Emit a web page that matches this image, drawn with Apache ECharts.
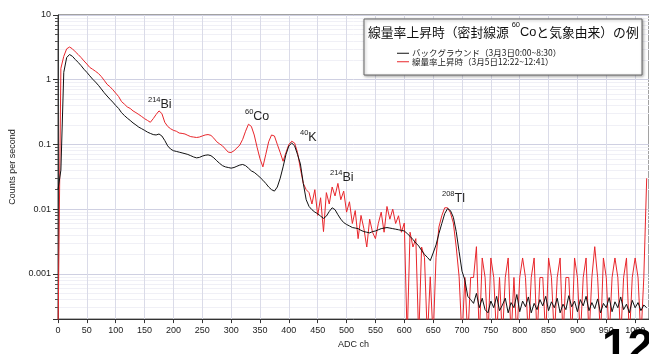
<!DOCTYPE html>
<html>
<head>
<meta charset="utf-8">
<script src="https://cdn.jsdelivr.net/npm/echarts@6/dist/echarts.min.js"></script>
<style>
  html, body { margin: 0; padding: 0; background: #fff; }
  #chart { width: 649px; height: 354px; }
</style>
</head>
<body>
<div id="chart"></div>
<script>
// ADC channel spacing of the samples below
const STEP = 5

// バックグラウンド (cps), ch 0..1020
const bgCps = [
  0.02, 0.04, 1.3, 2.2, 2.45, 2.3, 2.05, 1.85, 1.65, 1.45,
  1.3, 1.15, 1.02, 0.92, 0.82, 0.72, 0.63, 0.56, 0.5, 0.45,
  0.4, 0.36, 0.31, 0.28, 0.255, 0.235, 0.215, 0.2, 0.185, 0.175,
  0.165, 0.155, 0.148, 0.142, 0.14, 0.145, 0.135, 0.115, 0.095, 0.085,
  0.08, 0.078, 0.076, 0.074, 0.072, 0.07, 0.067, 0.064, 0.062, 0.063,
  0.066, 0.068, 0.069, 0.067, 0.062, 0.056, 0.051, 0.047, 0.045, 0.044,
  0.043, 0.044, 0.046, 0.048, 0.049, 0.047, 0.043, 0.039, 0.037, 0.034,
  0.031, 0.028, 0.025, 0.022, 0.02, 0.019, 0.022, 0.03, 0.045, 0.07,
  0.095, 0.105, 0.095, 0.07, 0.05, 0.025, 0.014, 0.011, 0.0098, 0.009,
  0.0085, 0.0078, 0.0072, 0.0078, 0.0092, 0.0105, 0.0098, 0.0082, 0.007, 0.0062,
  0.0058, 0.0055, 0.0052, 0.0051, 0.005, 0.0047, 0.0045, 0.0044, 0.0043, 0.0045,
  0.0046, 0.0048, 0.005, 0.0051, 0.0052, 0.0051, 0.005, 0.0049, 0.0048, 0.0047,
  0.0046, 0.0042, 0.0038, 0.0034, 0.003, 0.0027, 0.0023, 0.002, 0.0018, 0.0016,
  0.0021, 0.0028, 0.0042, 0.006, 0.0085, 0.0102, 0.0095, 0.0075, 0.0045, 0.0022,
  0.0011, 0.0008, 0.00045, 0.0004, 0.00035, 0.0005, 0.0003, 0.00042, 0.00028, 0.00025,
  0.00038, 0.0003, 0.00045, 0.00027, 0.00033, 0.00042, 0.00025, 0.00036, 0.0003, 0.00048,
  0.00026, 0.00038, 0.00031, 0.00044, 0.00025, 0.00035, 0.00028, 0.0004, 0.00032, 0.00045,
  0.00027, 0.00037, 0.0003, 0.00042, 0.00025, 0.00034, 0.00028, 0.00046, 0.00031, 0.00038,
  0.00026, 0.0004, 0.00032, 0.00045, 0.00027, 0.00036, 0.00029, 0.00041, 0.00025, 0.00035,
  0.0003, 0.00043, 0.00026, 0.00037, 0.0003, 0.00044, 0.00028, 0.00034, 0.00025, 0.00039,
  0.0003, 0.00036, 0.00027, 0.00033, 0.0003
]

// 線量率上昇時 (cps), ch 0..1020 ; 0.0001 = no counts (drops below the axis)
const riseCps = [
  0.0001, 1.5, 2.3, 3.0, 3.2, 3.0, 2.7, 2.45, 2.2, 1.95,
  1.75, 1.55, 1.45, 1.35, 1.25, 1.12, 0.98, 0.85, 0.78, 0.7,
  0.62, 0.55, 0.46, 0.42, 0.38, 0.36, 0.33, 0.31, 0.29, 0.27,
  0.25, 0.235, 0.22, 0.25, 0.29, 0.33, 0.3, 0.22, 0.19, 0.175,
  0.165, 0.16, 0.15, 0.148, 0.145, 0.138, 0.132, 0.13, 0.128, 0.13,
  0.135, 0.14, 0.142, 0.138, 0.125, 0.11, 0.102, 0.095, 0.085, 0.076,
  0.075, 0.08, 0.088, 0.098, 0.12, 0.16, 0.205, 0.19, 0.14, 0.09,
  0.06, 0.045, 0.07, 0.11, 0.14, 0.135, 0.1, 0.075, 0.055, 0.075,
  0.1, 0.112, 0.105, 0.075, 0.042, 0.025, 0.02, 0.018, 0.012, 0.02,
  0.008, 0.015, 0.0045, 0.018, 0.012, 0.022, 0.016, 0.025, 0.014, 0.019,
  0.009, 0.013, 0.006, 0.0095, 0.0035, 0.008, 0.005, 0.0026, 0.007, 0.0044,
  0.0035, 0.006, 0.009, 0.0044, 0.011, 0.007, 0.01, 0.006, 0.0079, 0.0044,
  0.0061, 0.0001, 0.0044, 0.0026, 0.0035, 0.0001, 0.0026, 0.0018, 0.0001, 0.0009,
  0.0001, 0.0018, 0.0053, 0.0079, 0.0105, 0.0105, 0.0088, 0.0061, 0.0026, 0.0009,
  0.0001, 0.00088, 0.0001, 0.00088, 0.00088, 0.00263, 0.0001, 0.00176, 0.00088, 0.0001,
  0.00176, 0.00088, 0.0001, 0.00088, 0.0001, 0.00088, 0.00176, 0.0001, 0.00088, 0.0001,
  0.00088, 0.00176, 0.00088, 0.0001, 0.00088, 0.00176, 0.0001, 0.00088, 0.00088, 0.0001,
  0.00176, 0.00088, 0.0001, 0.00088, 0.00176, 0.0001, 0.00088, 0.00088, 0.0001, 0.00176,
  0.00088, 0.0001, 0.00088, 0.00176, 0.0001, 0.00088, 0.00263, 0.00088, 0.0001, 0.00176,
  0.00088, 0.0001, 0.00088, 0.00176, 0.00088, 0.0001, 0.00088, 0.00176, 0.0001, 0.00088,
  0.00176, 0.00088, 0.0001, 0.00088, 0.03
]

const channels = bgCps.map((_, i) => i * STEP)

const bgName = 'バックグラウンド（3月3日0:00~8:30）'
const riseName = '線量率上昇時（3月5日12:22~12:41）'

// peak labels: [mass number, element, left px, top px]
const peakLabels = [
  ['214', 'Bi', 148, 96],
  ['60', 'Co', 245, 108],
  ['40', 'K', 300, 129],
  ['214', 'Bi', 330, 169],
  ['208', 'Tl', 442, 190]
]

const FONT = '"Liberation Sans", Arial, sans-serif'
const CJK = '"Noto Sans CJK JP", sans-serif'

const chart = echarts.init(document.getElementById('chart'))

const peakGraphics = peakLabels.map(([m, el, x, y]) => ({
  type: 'text',
  left: x,
  top: y,
  z: 20,
  style: {
    text: `{s|${m}}{e|${el}}`,
    rich: {
      s: { fontSize: 7.5, fontFamily: FONT, fill: '#222', verticalAlign: 'top', lineHeight: 15 },
      e: { fontSize: 12.5, fontFamily: FONT, fill: '#222', verticalAlign: 'bottom', lineHeight: 15 }
    }
  }
}))

chart.setOption({
  animation: false,
  backgroundColor: '#fff',
  grid: {
    left: 56, right: -2, top: 15, bottom: 31,
    show: true, borderColor: '#444', borderWidth: 1
  },
  legend: {
    data: [bgName, riseName],
    orient: 'vertical',
    left: 392,
    top: 44,
    itemWidth: 12,
    itemHeight: 1,
    itemGap: 0,
    icon: 'rect',
    z: 30,
    textStyle: { fontSize: 8.5, fontFamily: CJK, color: '#222', padding: [0, 0, 0, -2] }
  },
  xAxis: {
    type: 'value',
    min: 0,
    max: 1024,
    interval: 50,
    name: 'ADC ch',
    nameLocation: 'middle',
    nameGap: 19,
    nameTextStyle: { fontSize: 9, fontFamily: FONT, color: '#222' },
    axisLine: { lineStyle: { color: '#333' } },
    axisTick: { length: 4, lineStyle: { color: '#333' } },
    axisLabel: {
      fontSize: 9, fontFamily: FONT, color: '#222', margin: 7, showMaxLabel: false,
      formatter: v => String(v)
    },
    splitLine: { lineStyle: { color: '#dadbe8' } }
  },
  yAxis: {
    type: 'log',
    logBase: 10,
    min: 0.0002,
    max: 10,
    name: 'Counts per second',
    nameLocation: 'middle',
    nameGap: 41,
    nameTextStyle: { fontSize: 9, fontFamily: FONT, color: '#222' },
    axisLine: { show: true, lineStyle: { color: '#333' } },
    axisTick: { length: 5, lineStyle: { color: '#333' } },
    minorTick: { show: true, splitNumber: 9, length: 3, lineStyle: { color: '#555' } },
    axisLabel: {
      fontSize: 9, fontFamily: FONT, color: '#222', margin: 7,
      showMinLabel: false,
      formatter: v => String(+Number(v).toPrecision(1))
    },
    splitLine: { lineStyle: { color: '#cfd0e2' } },
    minorSplitLine: { show: true, lineStyle: { color: '#f0f0f6' } }
  },
  series: [
    {
      name: riseName,
      type: 'line',
      showSymbol: false,
      data: channels.map((c, i) => [c, riseCps[i]]),
      lineStyle: { color: '#e8262b', width: 1 },
      itemStyle: { color: '#e8262b' },
      clip: true,
      z: 2
    },
    {
      name: bgName,
      type: 'line',
      showSymbol: false,
      data: channels.map((c, i) => [c, bgCps[i]]),
      lineStyle: { color: '#111', width: 1 },
      itemStyle: { color: '#111' },
      clip: true,
      z: 3
    }
  ],
  graphic: [
    {
      type: 'rect',
      shape: { x: 364, y: 19, width: 278, height: 56 },
      style: { fill: '#fff', stroke: '#666', lineWidth: 1, shadowBlur: 3, shadowColor: 'rgba(0,0,0,0.35)', shadowOffsetX: 1, shadowOffsetY: 1 },
      z: 10
    },
    {
      type: 'text',
      left: 368,
      top: 21,
      z: 20,
      style: {
        text: '{t|線量率上昇時（密封線源 }{s|60}{c|Co}{t|と気象由来）の例}',
        rich: {
          t: { fontSize: 12.8, fontFamily: CJK, fill: '#111', verticalAlign: 'bottom', lineHeight: 18 },
          c: { fontSize: 12.8, fontFamily: FONT, fill: '#111', verticalAlign: 'bottom', lineHeight: 16 },
          s: { fontSize: 7.5, fontFamily: FONT, fill: '#111', verticalAlign: 'top', lineHeight: 18 }
        }
      }
    },
    ...peakGraphics,
    {
      type: 'text',
      left: 602,
      top: 325,
      z: 40,
      style: { text: '12', fontSize: 46, fontWeight: 'bold', fontFamily: FONT, fill: '#000' }
    }
  ]
})
</script>
</body>
</html>
